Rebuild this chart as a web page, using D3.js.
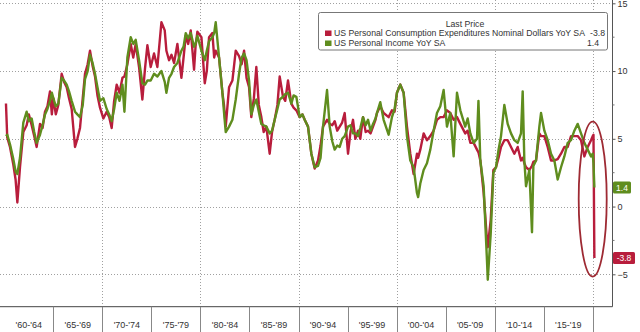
<!DOCTYPE html>
<html>
<head>
<meta charset="utf-8">
<script src="https://cdn.jsdelivr.net/npm/d3@7"></script>
<style>
	body { margin: 0; background: #fff; }
	svg { display: block; }
	text { font-family: "Liberation Sans", Arial, sans-serif; fill: #333; }
</style>
</head>
<body>
<svg id="chart" width="640" height="332"></svg>
<script>
;(function() {
	"use strict";

	// decimal years (both series share them)
	var dates = [
		1960.17, 1960.30, 1960.58, 1960.92, 1961.15, 1961.33, 1961.60, 1961.94, 1962.28, 1962.50,
		1962.79, 1963.05, 1963.30, 1963.64, 1963.90, 1964.15, 1964.40, 1964.66, 1964.85, 1965.00,
		1965.25, 1965.51, 1965.85, 1966.10, 1966.36, 1966.60, 1966.87, 1967.21, 1967.45, 1967.72,
		1968.00, 1968.23, 1968.50, 1968.74, 1969.00, 1969.25, 1969.50, 1969.76, 1970.10, 1970.44,
		1970.70, 1970.95, 1971.20, 1971.46, 1971.75, 1972.05, 1972.25, 1972.55, 1972.89, 1973.15,
		1973.40, 1973.74, 1974.08, 1974.35, 1974.59, 1974.93, 1975.27, 1975.61, 1976.02, 1976.36,
		1976.53, 1976.80, 1977.05, 1977.31, 1977.65, 1978.06, 1978.28, 1978.50, 1978.75, 1979.01,
		1979.35, 1979.50, 1979.69, 1980.10, 1980.44, 1980.65, 1980.88, 1981.22, 1981.40, 1981.56,
		1981.90, 1982.24, 1982.40, 1982.58, 1982.92, 1983.26, 1983.60, 1983.94, 1984.20, 1984.45,
		1984.70, 1984.96, 1985.19, 1985.45, 1985.70, 1985.95, 1986.21, 1986.45, 1986.72, 1987.06,
		1987.30, 1987.57, 1987.85, 1988.08, 1988.42, 1988.65, 1988.93, 1989.27, 1989.50, 1989.78,
		1990.12, 1990.40, 1990.63, 1990.97, 1991.31, 1991.65, 1991.99, 1992.25, 1992.50, 1992.91,
		1993.18, 1993.45, 1993.69, 1993.95, 1994.20, 1994.45, 1994.71, 1995.05, 1995.30, 1995.56,
		1995.80, 1996.07, 1996.30, 1996.58, 1996.85, 1997.09, 1997.35, 1997.60, 1997.85, 1998.00,
		1998.34, 1998.68, 1999.19, 1999.53, 1999.80, 2000.04, 2000.38, 2000.72, 2001.06, 2001.40,
		2001.74, 2002.08, 2002.20, 2002.42, 2002.76, 2003.10, 2003.44, 2003.78, 2004.12, 2004.46,
		2004.80, 2005.14, 2005.48, 2005.82, 2006.16, 2006.50, 2007.00, 2007.25, 2007.52, 2007.86,
		2008.20, 2008.35, 2008.54, 2008.88, 2009.22, 2009.30, 2009.60, 2009.87, 2010.14, 2010.40,
		2010.65, 2010.99, 2011.33, 2011.67, 2012.01, 2012.35, 2012.69, 2012.86, 2013.03, 2013.20,
		2013.54, 2013.81, 2013.95, 2014.22, 2014.56, 2014.73, 2015.07, 2015.41, 2015.75, 2016.09,
		2016.43, 2016.77, 2017.11, 2017.45, 2017.79, 2018.13, 2018.47, 2018.81, 2019.15, 2019.49,
		2019.83, 2020.00, 2020.08, 2020.17
	];

	// US Personal Consumption Expenditures Nominal Dollars YoY SA
	var pceYoY = [
		7.6, 5.1, 4.4, 3.1, 2.0, 0.3, 2.9, 5.5, 6.0, 6.8,
		6.0, 5.2, 4.4, 6.1, 5.8, 7.0, 7.4, 8.5, 6.8, 8.0,
		6.8, 7.5, 9.8, 9.2, 8.8, 8.0, 7.2, 4.4, 5.0, 5.8,
		8.0, 9.8, 10.5, 11.5, 10.4, 9.6, 8.2, 7.3, 6.5, 7.0,
		6.6, 5.8, 7.8, 9.0, 8.4, 9.5, 9.6, 10.5, 12.0, 11.0,
		12.0, 10.3, 7.9, 10.2, 11.9, 10.3, 11.3, 10.3, 13.6, 13.0,
		11.5, 10.8, 11.2, 10.6, 12.0, 9.5, 11.0, 12.6, 12.0, 13.0,
		10.1, 11.8, 12.9, 12.5, 9.1, 10.0, 12.5, 12.8, 11.0, 11.5,
		11.0, 8.4, 7.5, 5.9, 8.8, 9.3, 11.5, 11.1, 10.5, 11.5,
		9.5, 8.8, 6.6, 8.0, 10.3, 7.5, 6.6, 5.5, 5.9, 3.9,
		5.5, 6.4, 7.5, 9.6, 8.1, 7.8, 9.3, 7.6, 7.3, 7.1,
		6.6, 6.8, 6.4, 5.9, 3.9, 2.8, 3.4, 4.5, 5.9, 6.4,
		6.1, 6.0, 6.3, 5.6, 5.9, 6.2, 6.9, 3.9, 5.5, 6.4,
		5.0, 5.6, 5.0, 6.6, 5.5, 5.6, 5.4, 5.9, 6.4, 6.9,
		7.4, 6.9, 6.6, 7.1, 7.0, 8.4, 9.0, 8.4, 5.9, 3.9,
		2.4, 3.9, 3.6, 4.2, 5.4, 4.9, 5.2, 5.6, 6.4, 6.6,
		6.6, 7.1, 6.9, 6.4, 6.6, 6.1, 5.4, 5.6, 4.7, 4.7,
		4.2, 4.0, 3.4, 1.0, -2.5, -3.0, -1.0, 2.7, 2.9, 3.6,
		4.4, 4.9, 4.9, 4.4, 3.9, 4.4, 3.4, 3.6, 3.2, 2.9,
		2.7, 3.0, 3.3, 3.4, 5.4, 5.2, 5.2, 4.4, 3.4, 3.4,
		3.5, 3.9, 4.4, 4.4, 5.2, 5.2, 5.2, 4.9, 3.7, 4.4,
		4.9, 5.2, 5.3, -3.8
	];

	// US Personal Income YoY SA
	var incomeYoY = [
		5.2, 5.3, 4.6, 3.5, 2.6, 2.4, 3.6, 6.2, 7.0, 6.3,
		6.5, 5.5, 4.7, 5.3, 6.0, 6.8, 7.2, 7.8, 8.4, 8.0,
		7.4, 7.6, 9.5, 9.3, 9.0, 8.5, 7.8, 7.0, 6.8, 6.6,
		7.5, 9.4, 10.0, 11.2, 10.6, 9.8, 8.8, 7.8, 8.0, 7.2,
		6.8, 6.3, 7.2, 8.4, 7.8, 9.0, 7.0, 11.0, 12.5, 12.0,
		12.3, 10.8, 9.1, 9.0, 9.3, 9.3, 9.8, 9.6, 10.0, 9.2,
		8.4, 9.5, 9.8, 10.3, 10.6, 11.5, 11.8, 12.8, 12.4, 12.8,
		11.8, 12.0, 12.6, 11.5, 10.8, 11.5, 12.2, 12.5, 12.8, 13.6,
		11.0, 8.4, 7.0, 5.5, 5.9, 6.4, 7.9, 9.8, 11.0, 11.3,
		10.8, 9.3, 6.8, 7.5, 7.9, 7.0, 6.1, 6.0, 5.9, 5.4,
		5.6, 6.4, 7.2, 7.9, 8.1, 8.3, 8.4, 7.6, 8.2, 8.1,
		6.6, 6.8, 6.4, 5.9, 3.9, 2.9, 3.0, 3.6, 5.9, 8.6,
		5.9, 4.8, 4.2, 4.5, 4.4, 5.0, 5.2, 5.9, 6.0, 5.4,
		5.4, 5.2, 5.8, 6.6, 6.0, 6.4, 5.6, 6.1, 6.5, 6.9,
		7.7, 6.4, 5.3, 6.6, 7.2, 8.4, 9.0, 8.4, 5.2, 3.4,
		2.9, 1.0, 0.7, 1.7, 2.7, 3.2, 4.2, 5.6, 6.9, 7.4,
		8.6, 5.9, 6.9, 3.7, 8.4, 7.1, 5.9, 6.5, 5.4, 4.7,
		5.0, 7.8, 3.4, 1.5, -4.0, -5.4, -2.0, 2.5, 2.9, 4.2,
		5.2, 7.5, 6.1, 5.4, 4.9, 4.7, 5.4, 8.5, 3.4, 1.5,
		2.7, -1.9, 3.0, 3.4, 5.9, 6.9, 5.6, 4.9, 3.9, 3.4,
		2.0, 2.9, 3.7, 4.7, 4.9, 5.6, 6.1, 5.4, 4.7, 4.2,
		3.7, 3.9, 3.2, 1.4
	];

	var seriesNames = ["US Personal Consumption Expenditures Nominal Dollars YoY SA", "US Personal Income YoY SA"];
	var lastValues = ["-3.8", "1.4"];
	var yTicks = [-5, 0, 5, 10, 15];
	var yMinorTicks = [-2.5, 2.5, 7.5, 12.5];
	var gridYears = [1970, 1980, 1990, 2000, 2010, 2020];
	var binStarts = [1960, 1965, 1970, 1975, 1980, 1985, 1990, 1995, 2000, 2005, 2010, 2015];
	var binLabels = ["'60-'64", "'65-'69", "'70-'74", "'75-'79", "'80-'84", "'85-'89",
		"'90-'94", "'95-'99", "'00-'04", "'05-'09", "'10-'14", "'15-'19"];

	var colors = { pce: "#b81d3c", income: "#5f8d1e" };
	var plotRight = 612.5, plotBottom = 306.7;

	var svg = d3.select("#chart");

	var x = d3.scaleLinear().domain([1960, 2020]).range([4.3, 592.7]);
	var y = d3.scaleLinear().domain([-5, 15]).range([274.3, 3.3]);

	//grid
	var grid = svg.append("g").attr("class", "grid")
		.attr("stroke", "#a0a0a0").attr("stroke-dasharray", "1,2").attr("stroke-width", 1);
	grid.selectAll("line.h").data(yTicks).enter().append("line")
		.attr("x1", 0).attr("x2", plotRight)
		.attr("y1", function(d) { return Math.round(y(d)) + 0.5; })
		.attr("y2", function(d) { return Math.round(y(d)) + 0.5; });
	grid.selectAll("line.v").data(gridYears).enter().append("line")
		.attr("y1", 0).attr("y2", plotBottom)
		.attr("x1", function(d) { return Math.round(x(d)) + 0.5; })
		.attr("x2", function(d) { return Math.round(x(d)) + 0.5; });

	//series
	var pts = function(vals) {
		return dates.map(function(d, i) { return [d, vals[i]]; });
	};
	var line = d3.line()
		.x(function(d) { return x(d[0]); })
		.y(function(d) { return y(d[1]); });

	svg.append("path").datum(pts(pceYoY))
		.attr("d", line).attr("fill", "none")
		.attr("stroke", colors.pce).attr("stroke-width", 2.4).attr("stroke-linejoin", "round");
	svg.append("path").datum(pts(incomeYoY))
		.attr("d", line).attr("fill", "none")
		.attr("stroke", colors.income).attr("stroke-width", 2.4).attr("stroke-linejoin", "round");

	//right axis
	svg.append("line")
		.attr("x1", plotRight).attr("x2", plotRight).attr("y1", 0).attr("y2", plotBottom)
		.attr("stroke", "#555");
	var yAxis = svg.append("g")
		.attr("transform", "translate(" + plotRight + ",0)")
		.call(d3.axisRight(y).tickValues(yTicks).tickSize(3).tickPadding(2));
	yAxis.select(".domain").remove();
	yAxis.selectAll("line").attr("stroke", "#555");
	yAxis.selectAll("text").attr("font-size", 9).attr("fill", "#333")
		.style("font-family", "'Liberation Sans', Arial, sans-serif");
	svg.append("g").selectAll("line").data(yMinorTicks).enter().append("line")
		.attr("x1", plotRight).attr("x2", plotRight + 2)
		.attr("y1", function(d) { return y(d); }).attr("y2", function(d) { return y(d); })
		.attr("stroke", "#777");

	//bottom axis with 5-year bins
	svg.append("line")
		.attr("x1", 0).attr("x2", plotRight).attr("y1", plotBottom).attr("y2", plotBottom)
		.attr("stroke", "#444");
	svg.append("g").selectAll("line").data(binStarts.slice(1).concat([2020])).enter().append("line")
		.attr("x1", function(d) { return Math.round(x(d)) + 0.5; })
		.attr("x2", function(d) { return Math.round(x(d)) + 0.5; })
		.attr("y1", plotBottom).attr("y2", 332)
		.attr("stroke", "#888");
	svg.append("g").selectAll("text").data(binStarts).enter().append("text")
		.attr("x", function(d) { return x(d + 2.5); })
		.attr("y", 328)
		.attr("text-anchor", "middle").attr("font-size", 9)
		.text(function(d, i) { return binLabels[i]; });

	//legend
	var legend = svg.append("g");
	legend.append("rect")
		.attr("x", 318.5).attr("y", 12.5).attr("width", 289).attr("height", 37.5)
		.attr("rx", 2).attr("fill", "#fff").attr("stroke", "#777");
	legend.append("text").attr("x", 465).attr("y", 26.5)
		.attr("text-anchor", "middle").attr("font-size", 8.7).text("Last Price");
	[colors.pce, colors.income].forEach(function(c, i) {
		var ly = 36.3 + i * 10;
		legend.append("rect").attr("x", 325).attr("y", ly - 5.8).attr("width", 6.5).attr("height", 5.5).attr("fill", c);
		legend.append("text").attr("x", 334).attr("y", ly).attr("font-size", 8.7).text(seriesNames[i]);
		legend.append("text").attr("x", i === 0 ? 605 : 599).attr("y", ly)
			.attr("text-anchor", "end").attr("font-size", 8.7).text(lastValues[i]);
	});

	//last value tags
	[[incomeYoY, colors.income, lastValues[1], 18], [pceYoY, colors.pce, lastValues[0], 22]].forEach(function(t) {
		var vy = y(t[0][t[0].length - 1]);
		svg.append("rect").attr("x", 613).attr("y", vy - 6).attr("width", t[3]).attr("height", 12)
			.attr("rx", 1.5).attr("fill", t[1]);
		svg.append("text").attr("x", 613 + t[3] / 2).attr("y", vy + 3.2)
			.attr("text-anchor", "middle").attr("font-size", 8.5)
			.style("fill", "#fff").text(t[2]);
	});

	//highlight ellipse round the latest drop
	svg.append("ellipse")
		.attr("cx", x(2020)).attr("cy", y(0.55)).attr("rx", 14).attr("ry", 77.5)
		.attr("fill", "none").attr("stroke", "#9e2a33").attr("stroke-width", 1.8);
})();
</script>
</body>
</html>
